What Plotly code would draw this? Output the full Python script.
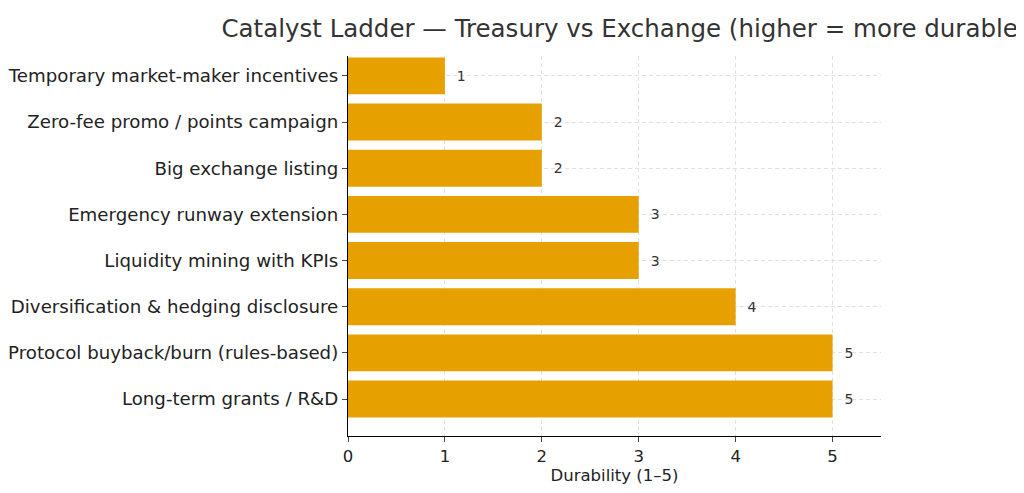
import plotly.graph_objects as go

categories = [
    "Long-term grants / R&D",
    "Protocol buyback/burn (rules-based)",
    "Diversification & hedging disclosure",
    "Liquidity mining with KPIs",
    "Emergency runway extension",
    "Big exchange listing",
    "Zero-fee promo / points campaign",
    "Temporary market-maker incentives",
]
durability = [5, 5, 4, 3, 3, 2, 2, 1]
tick_vals = [0, 1, 2, 3, 4, 5]

fig = go.Figure()
fig.add_trace(
    go.Bar(
        x=durability,
        y=categories,
        orientation="h",
        marker=dict(color="#E6A100", line_width=0),
        width=0.8,
        text=["  " + str(v) for v in durability],
        textposition="outside",
        textfont=dict(size=14, color="#333333"),
        cliponaxis=False,
    )
)

fig.update_layout(
    title=dict(
        text="Catalyst Ladder — Treasury vs Exchange (higher = more durable)",
        x=0.602, xanchor="center", y=0.958, yanchor="middle",
        font=dict(size=24.5, color="#333333"),
    ),
    font=dict(family="DejaVu Sans", color="#222222"),
    width=1024,
    height=493,
    margin=dict(l=340, r=151, t=48, b=65),
    plot_bgcolor="white",
    paper_bgcolor="white",
    showlegend=False,
)

fig.update_xaxes(
    range=[0, 5.5],
    tickvals=tick_vals,
    ticks="outside",
    ticklen=5,
    tickfont=dict(size=16.5),
    title=dict(text="Durability (1–5)", font=dict(size=16.5), standoff=4),
    showline=True,
    linecolor="black",
    linewidth=1.2,
    showgrid=True,
    gridcolor="#e0e0e0",
    griddash="4px,3px",
    zeroline=False,
)
fig.update_yaxes(
    range=[-0.8, 7.43],
    ticks="outside",
    ticklen=5,
    tickfont=dict(size=18.2),
    showline=True,
    linecolor="black",
    linewidth=1.2,
    showgrid=True,
    gridcolor="#e0e0e0",
    griddash="4px,3px",
    automargin=False,
)

fig.write_html("out.html")
